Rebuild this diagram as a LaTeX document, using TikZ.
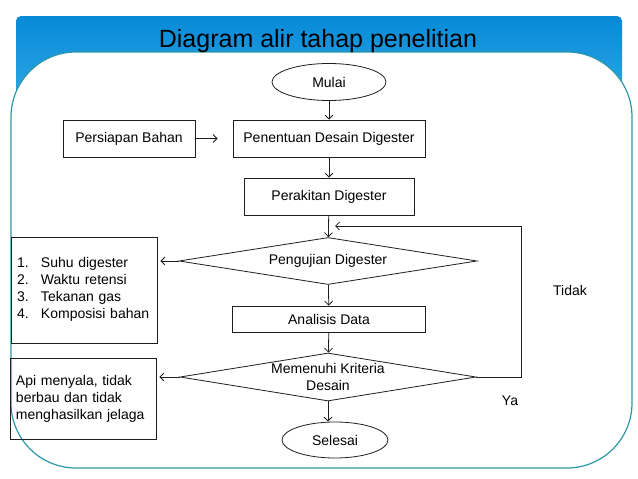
\documentclass[tikz,border=0pt]{standalone}
\usepackage{fontspec}
\setmainfont{Liberation Sans}
\usetikzlibrary{shapes.geometric,arrows.meta}
\definecolor{biruAtas}{RGB}{8, 138, 216}
\definecolor{biruBawah}{RGB}{48, 168, 229}
\definecolor{toscaBingkai}{RGB}{45, 152, 165}
\definecolor{garisGelap}{RGB}{30, 30, 30}

\begin{document}
\begin{tikzpicture}[x=1pt, y=-1pt,
  kotak/.style={rectangle, draw=garisGelap, line width=0.8pt, minimum height=37pt,
    align=center, font=\fontsize{14}{17}\selectfont},
  belah/.style={diamond, aspect=6.2, draw=garisGelap, line width=0.8pt, inner sep=0pt,
    align=center, font=\fontsize{14}{17}\selectfont},
  elips/.style={ellipse, draw=garisGelap, line width=0.8pt, inner sep=0pt,
    font=\fontsize{14}{17}\selectfont},
  catatan/.style={kotak, text width=134pt, inner xsep=6pt, align=left},
  label/.style={font=\fontsize{14}{17}\selectfont},
  panah/.style={-{Straight Barb[length=4pt, width=8pt]}, line width=0.8pt, garisGelap}
]
\useasboundingbox (0,0) rectangle (638,479);
\shade[top color=biruAtas, bottom color=biruBawah, rounded corners=5pt] (16,16) rectangle (622,105);
\draw[toscaBingkai, line width=1.2pt, fill=white, rounded corners=65pt] (11,52) rectangle (632,468);
\node[font=\fontsize{25}{30}\selectfont, anchor=base] (judul) at (318,47) {Diagram alir tahap penelitian};

\node[elips, minimum width=114pt, minimum height=37pt] (mulai) at (329,82) {Mulai};
\node[kotak, minimum width=132pt] (persiapan) at (129,138.5) {Persiapan Bahan};
\node[kotak, minimum width=192pt] (penentuan) at (329,138.5) {Penentuan Desain Digester};
\node[kotak, minimum width=170pt] (perakitan) at (329,196.5) {Perakitan Digester};
\node[belah, minimum width=298pt, minimum height=47pt] (pengujian) at (328,261) {Pengujian Digester};
\node[kotak, minimum width=193pt, minimum height=26pt] (analisis) at (329,319) {Analisis Data};
\node[belah, minimum width=296pt, minimum height=48pt] (memenuhi) at (328,377) {Memenuhi Kriteria\\Desain};
\node[elips, minimum width=106pt, minimum height=36pt] (selesai) at (335,440) {Selesai};

\node[catatan, minimum height=106pt] (variabel) at (84,290) {%
  \begin{tabular}{@{}p{24pt}@{}l@{}}
  1. & Suhu digester\\
  2. & Waktu retensi\\
  3. & Tekanan gas\\
  4. & Komposisi bahan
  \end{tabular}};
\node[catatan, minimum height=81pt] (kriteria) at (83,398.5) {Api menyala, tidak\\berbau dan tidak\\menghasilkan jelaga};

\node[label] (tidak) at (570,290) {Tidak};
\node[label] (ya) at (510,401) {Ya};

\coordinate (belok) at (521,226);
\coordinate (masuk) at (335,226);

\draw[panah] (mulai) -- (penentuan);
\draw[panah, shorten >=15pt] (persiapan) -- (penentuan);
\draw[panah] (penentuan) -- (perakitan);
\draw[panah] (perakitan) -- (pengujian);
\draw[panah] (pengujian) -- (analisis);
\draw[panah] (analisis) -- (memenuhi);
\draw[panah] (memenuhi.south) -- (memenuhi.south |- selesai.north);
\draw[panah, shorten >=3pt] (pengujian.west) -- (pengujian.west -| variabel.east);
\draw[panah, shorten >=3pt] (memenuhi.west) -- (memenuhi.west -| kriteria.east);
\draw[panah] (memenuhi.east) -| (belok) -- (masuk);
\end{tikzpicture}
\end{document}
